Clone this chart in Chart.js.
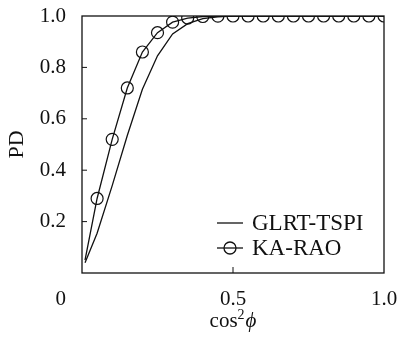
<!DOCTYPE html>
<html>
<head>
<meta charset="utf-8">
<script src="https://cdn.jsdelivr.net/npm/chart.js@4.4.0/dist/chart.umd.min.js"></script>
<style>
html,body{margin:0;padding:0;background:#fff;}
#wrap{width:398px;height:344px;position:relative;}
</style>
</head>
<body>
<div id="wrap"><canvas id="my_canvas"></canvas></div>
<script>
// cos^2(phi) sample points
const cos_values = [0.01,0.05,0.10,0.15,0.20,0.25,0.30,0.35,0.40,0.45,0.50,0.55,0.60,0.65,0.70,0.75,0.80,0.85,0.90,0.95,1.00];
// detection probability per detector
const glrt_pd  = [0.04,0.155,0.34,0.535,0.715,0.845,0.93,0.97,0.99,0.997,1,1,1,1,1,1,1,1,1,1,1];
const karao_pd = [0.05,0.29,0.52,0.72,0.86,0.935,0.976,0.992,0.998,0.9995,1,1,1,1,1,1,1,1,1,1,1];
const series_names = ['GLRT-TSPI','KA-RAO'];
const x_title = ['cos','2','\u03d5'];
const y_title = 'PD';
const origin_label = '0';

const serif = "'Liberation Serif', 'Times New Roman', serif";
const ink = '#111';
const marker_size = 6;

function toPoints(xs, ys){
    return xs.map((x,i) => ({x:x, y:ys[i]}));
}

const framePlugin = {
    id:'frame',
    beforeDatasetsDraw(chart){
        const a = chart.chartArea;
        chart.ctx.save();
        chart.ctx.beginPath();
        chart.ctx.rect(a.left, a.top, a.right - a.left, a.bottom - a.top);
        chart.ctx.clip();
    },
    afterDatasetsDraw(chart){
        const ctx = chart.ctx;
        ctx.restore();
        const a = chart.chartArea;
        const xs = chart.scales.x;
        const ys = chart.scales.y;
        ctx.save();
        ctx.strokeStyle = ink;
        ctx.lineWidth = 1.3;
        ctx.strokeRect(a.left, a.top, a.right - a.left, a.bottom - a.top);

        // inward tick marks
        ctx.lineWidth = 1;
        ys.ticks.forEach(t => {
            if(t.value <= 0 || t.value >= 1) return;
            const py = ys.getPixelForValue(t.value);
            ctx.beginPath();
            ctx.moveTo(a.left, py);
            ctx.lineTo(a.left + 5, py);
            ctx.stroke();
        });
        xs.ticks.forEach(t => {
            if(t.value <= 0 || t.value >= 1) return;
            const px = xs.getPixelForValue(t.value);
            ctx.beginPath();
            ctx.moveTo(px, a.bottom);
            ctx.lineTo(px, a.bottom - 6);
            ctx.stroke();
        });

        // shared origin label
        ctx.fillStyle = ink;
        ctx.font = '21px ' + serif;
        ctx.textAlign = 'right';
        ctx.textBaseline = 'middle';
        ctx.fillText(origin_label, a.left - 16, a.bottom + 26);

        // x axis title: cos, superscript 2, italic phi
        const midX = xs.getPixelForValue(0.5);
        const baseY = a.bottom + 54;
        ctx.textBaseline = 'alphabetic';
        ctx.textAlign = 'left';
        ctx.font = '21px ' + serif;
        const w1 = ctx.measureText(x_title[0]).width;
        ctx.font = '14px ' + serif;
        const w2 = ctx.measureText(x_title[1]).width;
        ctx.font = 'italic 21px ' + serif;
        const w3 = ctx.measureText(x_title[2]).width;
        let tx = midX - (w1 + w2 + 1 + w3) / 2;
        ctx.font = '21px ' + serif;
        ctx.fillText(x_title[0], tx, baseY);
        tx += w1;
        ctx.font = '14px ' + serif;
        ctx.fillText(x_title[1], tx, baseY - 8);
        tx += w2 + 1;
        ctx.font = 'italic 21px ' + serif;
        ctx.fillText(x_title[2], tx, baseY);

        // legend inside the plot
        ctx.textAlign = 'left';
        ctx.textBaseline = 'middle';
        ctx.font = '23px ' + serif;
        const rows = [a.bottom - 50, a.bottom - 25];
        chart.data.datasets.forEach((ds, i) => {
            const yy = rows[i];
            const x0 = a.right - 167;
            ctx.strokeStyle = ds.borderColor;
            ctx.lineWidth = ds.borderWidth;
            ctx.beginPath();
            ctx.moveTo(x0, yy);
            ctx.lineTo(x0 + 26, yy);
            ctx.stroke();
            if(ds.pointBorderColor){
                ctx.beginPath();
                ctx.arc(x0 + 13, yy, marker_size, 0, Math.PI * 2);
                ctx.stroke();
            }
            ctx.fillStyle = ink;
            ctx.fillText(ds.label, x0 + 35, yy + 1);
        });
        ctx.restore();
    }
};

const canvas_element = document.getElementById('my_canvas').getContext('2d');

const the_chart = new Chart(canvas_element,{
    type:'line',
    data:{
        datasets:[{
            label:series_names[0],
            data:toPoints(cos_values, glrt_pd),
            borderColor:ink,
            borderWidth:1.3,
            pointRadius:0,
            tension:0
        },{
            label:series_names[1],
            data:toPoints(cos_values, karao_pd),
            borderColor:ink,
            borderWidth:1.3,
            pointRadius:(c) => c.dataIndex === 0 ? 0 : marker_size,
            pointBorderWidth:1.2,
            pointBorderColor:ink,
            pointBackgroundColor:'rgba(0,0,0,0)',
            tension:0
        }]
    },
    options:{
        responsive:true,
        maintainAspectRatio:false,
        animation:false,
        devicePixelRatio:1,
        layout:{padding:{top:16,right:14,left:0,bottom:0}},
        plugins:{
            legend:{display:false},
            tooltip:{enabled:false}
        },
        scales:{
            x:{
                type:'linear',
                min:0,
                max:1,
                afterFit(scale){
                    scale.height = 71;
                    scale.paddingLeft = 0;
                    scale.paddingRight = 0;
                },
                grid:{display:false, drawTicks:false},
                border:{display:false},
                ticks:{
                    stepSize:0.5,
                    padding:14,
                    color:ink,
                    font:{family:serif,size:21},
                    maxRotation:0,
                    callback:(v) => v === 0 ? '' : v.toFixed(1)
                },
                title:{display:false}
            },
            y:{
                min:0,
                max:1,
                afterFit(scale){
                    scale.width = 82;
                    scale.paddingTop = 0;
                    scale.paddingBottom = 0;
                },
                grid:{display:false, drawTicks:false},
                border:{display:false},
                ticks:{
                    stepSize:0.2,
                    padding:16,
                    color:ink,
                    font:{family:serif,size:21},
                    callback:(v) => v === 0 ? '' : v.toFixed(1)
                },
                title:{
                    display:true,
                    text:y_title,
                    color:ink,
                    font:{family:serif,size:22},
                    padding:{top:4,bottom:0}
                }
            }
        }
    },
    plugins:[framePlugin]
});
</script>
</body>
</html>
